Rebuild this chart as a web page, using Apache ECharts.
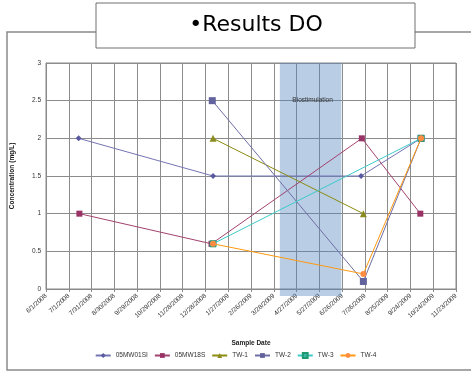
<!DOCTYPE html>
<html>
<head>
<meta charset="utf-8">
<script src="https://cdn.jsdelivr.net/npm/echarts@6/dist/echarts.min.js"></script>
<style>
  html, body { margin: 0; padding: 0; background: #fff; }
  #chart { width: 471px; height: 373px; }
</style>
</head>
<body>
<div id="chart"></div>
<script>
// Dissolved oxygen results per well, by sample date
var titleText = '\u2022Results DO';
var seriesNames = ['05MW01SI', '05MW18S', 'TW-1', 'TW-2', 'TW-3', 'TW-4'];

var dates05MW01SI = ['2008-07-14', '2009-01-07', '2009-07-21', '2009-10-08'];
var values05MW01SI = [2, 1.5, 1.5, 2];

var dates05MW18S = ['2008-07-15', '2009-01-05', '2009-07-22', '2009-10-07'];
var values05MW18S = [1, 0.6, 2, 1];

var datesTW1 = ['2009-01-07', '2009-07-24'];
var valuesTW1 = [2, 1];

var datesTW2 = ['2009-01-06', '2009-07-24', '2009-10-08'];
var valuesTW2 = [2.5, 0.1, 2];

var datesTW3 = ['2009-01-07', '2009-10-08'];
var valuesTW3 = [0.6, 2];

var datesTW4 = ['2009-01-07', '2009-07-24', '2009-10-08'];
var valuesTW4 = [0.6, 0.2, 2];

// Biostimulation period
var bandLabel = 'Biostimulation';
var bandStart = '2009-04-05';
var bandEnd = '2009-06-25';

// Axis: days since 6/1/2008, gridlines every 30 days, up to 11/23/2009
var axisStartDate = '2008-06-01';
var axisDays = 540;
var axisStepDays = 30;
var yTicks = [0, 0.5, 1, 1.5, 2, 2.5, 3];

var DAY = 86400000;
function toUTC(s) {
  var p = s.split('-');
  return Date.UTC(+p[0], +p[1] - 1, +p[2]);
}
var originMs = toUTC(axisStartDate);
function dayOf(s) { return Math.round((toUTC(s) - originMs) / DAY); }
function pairs(dates, vals) {
  return dates.map(function (d, i) { return [dayOf(d), vals[i]]; });
}
function dayLabel(v) {
  var d = new Date(originMs + v * DAY);
  return (d.getUTCMonth() + 1) + '/' + d.getUTCDate() + '/' + d.getUTCFullYear();
}

var styles = [
  { line: '#7474B4', fill: '#5A5AA0', border: '#5A5AA0', symbol: 'diamond', size: 6 },
  { line: '#A3426F', fill: '#993366', border: '#993366', symbol: 'rect', size: 6 },
  { line: '#8C8C10', fill: '#8C8C1E', border: '#7A7A10', symbol: 'triangle', size: 7 },
  { line: '#6E6EA6', fill: '#62629C', border: '#62629C', symbol: 'rect', size: 7 },
  { line: '#3CCACA', fill: '#3BB5A6', border: '#1E9A70', symbol: 'rect', size: 6 },
  { line: '#FF9A10', fill: '#FF8C40', border: '#FF8C40', symbol: 'circle', size: 6 }
];
var dataSets = [
  pairs(dates05MW01SI, values05MW01SI),
  pairs(dates05MW18S, values05MW18S),
  pairs(datesTW1, valuesTW1),
  pairs(datesTW2, valuesTW2),
  pairs(datesTW3, valuesTW3),
  pairs(datesTW4, valuesTW4)
];

var font = 'Liberation Sans, Arial, sans-serif';
var yMax = yTicks[yTicks.length - 1];

var series = [{
  type: 'custom',
  name: bandLabel,
  clip: false,
  z: 1,
  silent: true,
  encode: { x: [0, 1], y: 2 },
  data: [[dayOf(bandStart), dayOf(bandEnd), 0]],
  renderItem: function (params, api) {
    var p0 = api.coord([api.value(0), yMax]);
    var p1 = api.coord([api.value(1), 0]);
    var ty = api.coord([0, 2.51])[1];
    return {
      type: 'group',
      children: [
        { type: 'rect',
          shape: { x: p0[0], y: p0[1], width: p1[0] - p0[0], height: p1[1] - p0[1] + 7 },
          style: { fill: 'rgba(79,129,189,0.4)' } },
        { type: 'text',
          style: { text: bandLabel, x: (p0[0] + p1[0]) / 2 + 2, y: ty,
                   align: 'center', verticalAlign: 'middle',
                   font: '6.5px ' + font, fill: '#333' } }
      ]
    };
  }
}];

seriesNames.forEach(function (name, i) {
  var s = styles[i];
  series.push({
    type: 'line',
    name: name,
    z: 3 + i,
    data: dataSets[i],
    symbol: s.symbol,
    symbolSize: s.size,
    showAllSymbol: true,
    lineStyle: { color: s.line, width: 1 },
    itemStyle: { color: s.fill, borderColor: s.border, borderWidth: i === 4 ? 1 : 0 },
    emphasis: { disabled: true },
    animation: false
  });
});

var chart = echarts.init(document.getElementById('chart'), null, { renderer: 'canvas' });
chart.setOption({
  animation: false,
  backgroundColor: '#fff',
  textStyle: { fontFamily: font },
  graphic: [
    { type: 'rect', z: -10, shape: { x: 7, y: 32, width: 480, height: 338 },
      style: { fill: '#fff', stroke: '#8a8a8a', lineWidth: 1.5 } },
    { type: 'rect', z: 100, shape: { x: 96, y: 3, width: 319, height: 45 },
      style: { fill: '#fff', stroke: '#707070', lineWidth: 1 } },
    { type: 'text', z: 101, style: { text: titleText, x: 256, y: 25, align: 'center', verticalAlign: 'middle',
      font: '22px DejaVu Sans, sans-serif', fill: '#000' } }
  ],
  grid: { left: 46, right: 15, top: 63, bottom: 84, show: true, borderColor: '#8a8a8a', borderWidth: 1 },
  legend: {
    data: seriesNames,
    bottom: 9,
    left: 'center',
    itemWidth: 15,
    itemHeight: 6,
    itemGap: 6,
    textStyle: { fontSize: 6.5, color: '#333', fontFamily: font }
  },
  xAxis: {
    type: 'value',
    min: 0,
    max: axisDays,
    interval: axisStepDays,
    name: 'Sample Date',
    nameLocation: 'middle',
    nameGap: 51,
    nameTextStyle: { fontWeight: 'bold', fontSize: 6.5, color: '#222' },
    axisLine: { lineStyle: { color: '#8a8a8a' } },
    axisTick: { show: true, length: 3, lineStyle: { color: '#8a8a8a' } },
    axisLabel: { rotate: 42, margin: 6, fontSize: 6.5, color: '#333', formatter: dayLabel },
    splitLine: { show: true, lineStyle: { color: '#8c8c8c', width: 1 } }
  },
  yAxis: {
    type: 'value',
    min: yTicks[0],
    max: yMax,
    interval: 0.5,
    name: 'Concentration (mg/L)',
    nameLocation: 'middle',
    nameGap: 30,
    nameTextStyle: { fontWeight: 'bold', fontSize: 6.6, color: '#222' },
    axisLine: { show: true, lineStyle: { color: '#8a8a8a' } },
    axisTick: { show: false },
    axisLabel: { fontSize: 6.5, color: '#333', margin: 5 },
    splitLine: { show: true, lineStyle: { color: '#8c8c8c', width: 1 } }
  },
  series: series
});
</script>
</body>
</html>
